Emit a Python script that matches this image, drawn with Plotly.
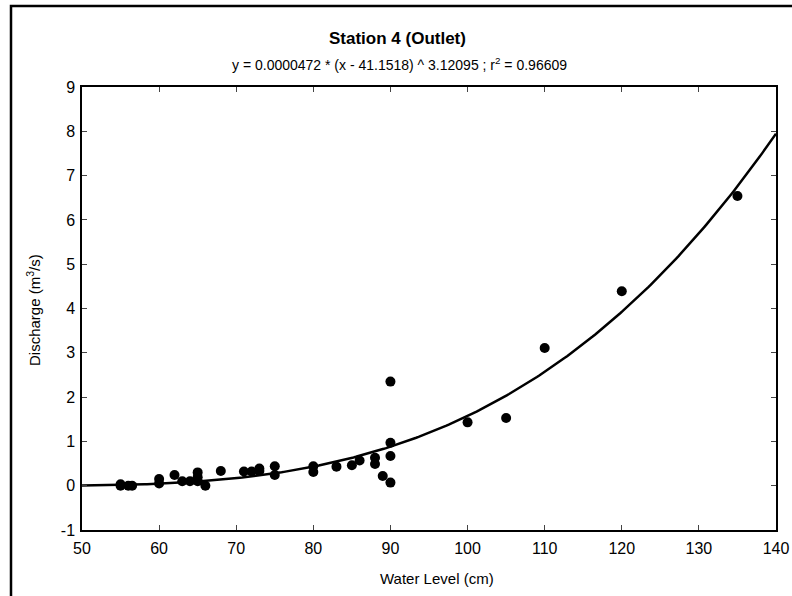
import numpy as np
import plotly.graph_objects as go

# Observed data: water level (cm) and discharge (m^3/s)
water_level = [55, 55, 56, 56.5, 60, 60, 62, 63, 64, 65, 65, 65, 66, 68,
               71, 72, 73, 73, 75, 75, 80, 80, 83, 85, 86, 88, 88, 89,
               90, 90, 90, 90, 100, 105, 110, 120, 135]
discharge = [0.03, 0.0, 0.0, 0.0, 0.15, 0.05, 0.24, 0.1, 0.1, 0.3, 0.19, 0.1, 0.0, 0.33,
             0.32, 0.32, 0.39, 0.33, 0.44, 0.24, 0.44, 0.31, 0.43, 0.46, 0.57, 0.63, 0.49, 0.22,
             2.35, 0.97, 0.67, 0.07, 1.43, 1.53, 3.11, 4.39, 6.54]

# Fitted rating curve parameters (y = a * (x - x0) ^ b)
fit_a = 0.00000472
fit_x0 = 41.1518
fit_b = 3.12095

x_ticks = [50, 60, 70, 80, 90, 100, 110, 120, 130, 140]
y_ticks = [-1, 0, 1, 2, 3, 4, 5, 6, 7, 8, 9]
y_tick_labels = ["-1", "0", "1", "2", "3", "4", "5", "6", "7", "8", "9"]

curve_x = np.linspace(50, 140, 300)
curve_y = fit_a * (curve_x - fit_x0) ** fit_b

font_family = "Liberation Sans, Arial, sans-serif"

W, H = 792, 596
L, R, T, B = 82, 16, 87, 66
plot_w = W - L - R
plot_h = H - T - B


def px_x(px):
    return (px - L) / plot_w


def px_y(py):
    return (H - B - py) / plot_h


fig = go.Figure()
fig.add_trace(go.Scatter(x=curve_x, y=curve_y, mode="lines",
                         line=dict(color="black", width=2.5), showlegend=False,
                         hoverinfo="skip"))
fig.add_trace(go.Scatter(x=water_level, y=discharge, mode="markers",
                         marker=dict(color="black", size=10, line=dict(width=0)),
                         showlegend=False))

fig.update_layout(
    width=W, height=H,
    margin=dict(l=L, r=R, t=T, b=B, autoexpand=False),
    paper_bgcolor="white", plot_bgcolor="white",
    font=dict(family=font_family, color="black", size=16),
    annotations=[
        dict(text="<b>Station 4 (Outlet)</b>", x=px_x(397), y=px_y(38), xref="paper", yref="paper",
             showarrow=False, font=dict(size=17), yanchor="middle"),
        dict(text="y = 0.0000472 * (x - 41.1518) ^ 3.12095 ; r<sup>2</sup> = 0.96609",
             x=px_x(399), y=px_y(64), xref="paper", yref="paper", showarrow=False,
             font=dict(size=14), yanchor="middle"),
        dict(text="Water Level (cm)", x=px_x(437), y=px_y(578), xref="paper", yref="paper",
             showarrow=False, font=dict(size=15), yanchor="middle"),
        dict(text="Discharge (m<sup>3</sup>/s)", x=px_x(33), y=px_y(310), xref="paper", yref="paper",
             showarrow=False, font=dict(size=15), textangle=-90, xanchor="center",
             yanchor="middle"),
    ],
    shapes=[dict(type="rect", xref="paper", yref="paper",
                 x0=px_x(11), x1=px_x(820), y0=px_y(630), y1=px_y(6),
                 line=dict(color="black", width=2.5))],
)

fig.update_xaxes(range=[50, 140], tickvals=x_ticks, ticks="inside", ticklen=5,
                 showline=True, linecolor="black", linewidth=1.8, mirror="ticks",
                 showgrid=False, zeroline=False, automargin=False,
                 tickfont=dict(size=16), ticklabelstandoff=3)
fig.update_yaxes(range=[-1, 9], tickvals=y_ticks, ticktext=y_tick_labels,
                 ticks="inside", ticklen=5,
                 showline=True, linecolor="black", linewidth=1.5, mirror="ticks",
                 showgrid=False, zeroline=False, automargin=False,
                 tickfont=dict(size=16), ticklabelstandoff=2)

fig.write_html("out.html", config={"displayModeBar": False},
               post_script="document.body.style.margin='0';document.body.style.overflow='hidden';")
